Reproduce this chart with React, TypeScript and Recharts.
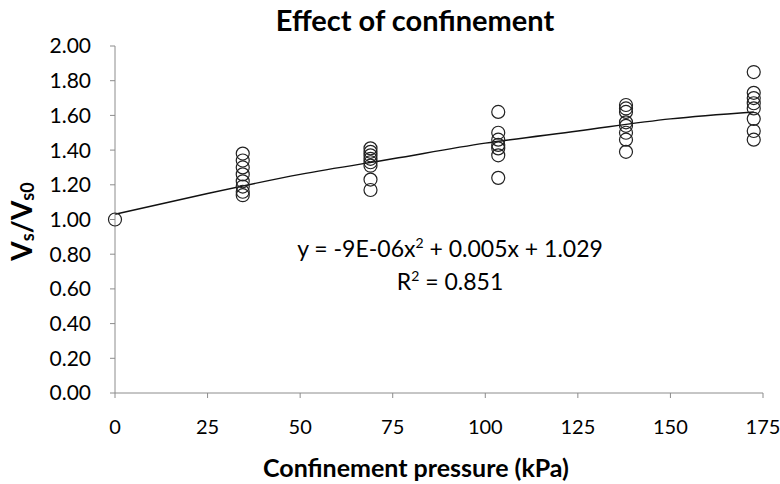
import React from 'react';
import {
  ComposedChart,
  Scatter,
  Line,
  XAxis,
  YAxis,
  Label,
} from 'recharts';

// confinement pressure (kPa) for each measured group
const pressures = [0, 34.5, 69, 103.5, 138, 172.5];

// Vs/Vs0 readings per pressure group
const ratios = [
  [1.0],
  [1.38, 1.34, 1.3, 1.26, 1.22, 1.19, 1.16, 1.14],
  [1.41, 1.39, 1.37, 1.35, 1.33, 1.31, 1.23, 1.17],
  [1.62, 1.5, 1.46, 1.43, 1.41, 1.37, 1.24],
  [1.66, 1.64, 1.62, 1.56, 1.54, 1.5, 1.46, 1.39],
  [1.85, 1.73, 1.7, 1.67, 1.64, 1.58, 1.51, 1.46],
];

// polynomial trendline
const trendX = [0, 25, 50, 75, 100, 125, 150, 172.5];
const trendY = [1.03, 1.15, 1.26, 1.35, 1.44, 1.51, 1.58, 1.62];

const xTicks = [0, 25, 50, 75, 100, 125, 150, 175];
const yTicks = [0, 0.2, 0.4, 0.6, 0.8, 1.0, 1.2, 1.4, 1.6, 1.8, 2.0];

const points = pressures.flatMap((p, i) => ratios[i].map((r) => ({ x: p, y: r })));
const trend = trendX.map((x, i) => ({ x, y: trendY[i] }));

const FONT = 'Lato, "Open Sans", sans-serif';

const OpenCircle = (props: any) => (
  <circle cx={props.cx} cy={props.cy} r={6.5} fill="none" stroke="#222" strokeWidth={1.2} />
);

const YTitle = ({ viewBox }: any) => {
  const cx = 21;
  const cy = viewBox.y + viewBox.height / 2 + 2;
  return (
    <text
      x={cx}
      y={cy}
      transform={`rotate(-90 ${cx} ${cy})`}
      textAnchor="middle"
      dominantBaseline="central"
      fontFamily={FONT}
      fontWeight={700}
      fontSize={28}
      fill="#000"
    >
      V<tspan fontSize={18} dy={6}>s</tspan>
      <tspan dy={-6}>/V</tspan>
      <tspan fontSize={18} dy={6}>s0</tspan>
    </text>
  );
};

const XTitle = () => (
  <text
    x={416}
    y={467}
    textAnchor="middle"
    dominantBaseline="central"
    fontFamily={FONT}
    fontWeight={700}
    fontSize={25}
    fill="#000"
  >
    Confinement pressure (kPa)
  </text>
);

const supStyle = { fontSize: 14, lineHeight: 0 };

export default function App() {
  return (
    <div style={{ position: 'fixed', left: 0, top: 0, width: 780, height: 484, background: '#fff', fontFamily: FONT }}>
      <div
        style={{
          position: 'absolute',
          left: 0,
          width: 830,
          top: 0,
          lineHeight: '40px',
          textAlign: 'center',
          fontWeight: 700,
          fontSize: 29,
          color: '#000',
        }}
      >
        Effect of confinement
      </div>
      <div style={{ position: 'absolute', left: 270, width: 360, top: 232, textAlign: 'center', fontSize: 23, color: '#000', lineHeight: '33px' }}>
        <div>
          y = -9E-06x<sup style={supStyle}>2</sup> + 0.005x + 1.029
        </div>
        <div>
          R<sup style={supStyle}>2</sup> = 0.851
        </div>
      </div>
      <ComposedChart
        width={780}
        height={484}
        margin={{ top: 46, right: 17, bottom: 51, left: 45 }}
        style={{ position: 'absolute', left: 0, top: 0 }}
      >
        <XAxis
          dataKey="x"
          type="number"
          domain={[0, 175]}
          ticks={xTicks}
          height={40}
          stroke="#8c8c8c"
          tickSize={5}
          tick={{ fontSize: 20, fill: '#000', fontFamily: FONT, dy: 20 }}
        >
          <Label content={<XTitle />} />
        </XAxis>
        <YAxis
          dataKey="y"
          type="number"
          domain={[0, 2]}
          ticks={yTicks}
          width={70}
          stroke="#8c8c8c"
          tickSize={5}
          tickFormatter={(v: number) => v.toFixed(2)}
          tick={{ fontSize: 21, fill: '#000', fontFamily: FONT, dx: -17 }}
        >
          <Label content={<YTitle />} />
        </YAxis>
        <Line
          data={trend}
          dataKey="y"
          type="monotone"
          stroke="#111"
          strokeWidth={1.4}
          dot={false}
          isAnimationActive={false}
        />
        <Scatter data={points} dataKey="y" shape={<OpenCircle />} isAnimationActive={false} />
      </ComposedChart>
    </div>
  );
}
